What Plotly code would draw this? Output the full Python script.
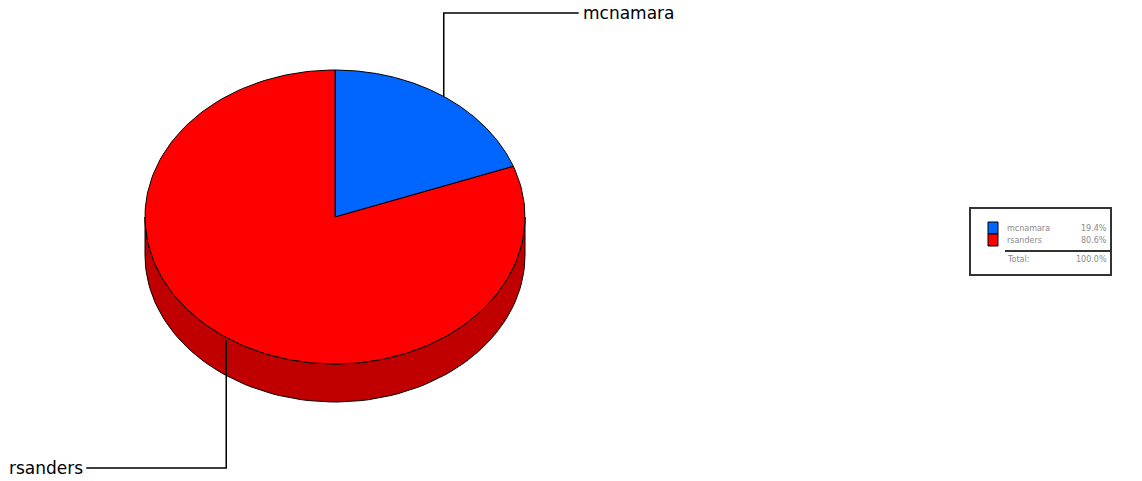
import numpy as np
import plotly.graph_objects as go

# ---- data ----
categories = ["mcnamara", "rsanders"]
values = [19.4, 80.6]
top_colors = ["#0066FF", "#FF0000"]
side_colors = ["#0040B0", "#C00000"]

# ---- geometry (pixel space of the window) ----
W, H = 1142, 481
cx, cy, rx, ry, depth = 335, 217, 190, 147, 38

def pt(theta_deg, dy=0):
    t = np.radians(theta_deg)
    return cx + rx * np.sin(t), cy - ry * np.cos(t) + dy

total = float(sum(values))
fracs = [v / total for v in values]
bounds = np.concatenate([[0], np.cumsum(fracs) * 360])

fig = go.Figure()

# side walls (visible front half: 90..270 deg clockwise from top)
for i in range(len(values)):
    a0, a1 = max(bounds[i], 90), min(bounds[i + 1], 270)
    if a1 <= a0:
        continue
    ang = np.linspace(a0, a1, 80)
    xs_t, ys_t = pt(ang)
    xs_b, ys_b = pt(ang[::-1], depth)
    xs = np.concatenate([xs_t, xs_b, xs_t[:1]])
    ys = np.concatenate([ys_t, ys_b, ys_t[:1]])
    fig.add_trace(go.Scatter(x=xs, y=ys, mode="lines", fill="toself",
                             fillcolor=side_colors[i],
                             line=dict(color="black", width=1),
                             hoverinfo="skip", showlegend=False))

# top faces
for i in range(len(values)):
    ang = np.linspace(bounds[i], bounds[i + 1], 200)
    xs, ys = pt(ang)
    xs = np.concatenate([[cx], xs, [cx]])
    ys = np.concatenate([[cy], ys, [cy]])
    fig.add_trace(go.Scatter(x=xs, y=ys, mode="lines", fill="toself",
                             fillcolor=top_colors[i],
                             line=dict(color="black", width=1),
                             name=categories[i], hoverinfo="name",
                             showlegend=False))

# leader lines and labels
label_y = [13, 468]
for i in range(len(values)):
    mid = (bounds[i] + bounds[i + 1]) / 2
    x0, y0 = pt(mid)
    if 90 < mid < 270:
        y0 = y0 + 3
    ly = label_y[i]
    right = np.sin(np.radians(mid)) >= 0
    x1 = x0 + 135 if right else x0 - 140
    fig.add_trace(go.Scatter(x=[x0, x0, x1], y=[y0, ly, ly], mode="lines",
                             line=dict(color="black", width=1.5),
                             hoverinfo="skip", showlegend=False))
    fig.add_annotation(x=x1 + (2 if right else -1), y=ly, text=categories[i],
                       showarrow=False, xanchor="left" if right else "right",
                       yanchor="middle",
                       font=dict(family="DejaVu Sans", size=17, color="black"))

# legend box
lx0, ly0, lx1, ly1 = 970, 208, 1111, 275
fig.add_shape(type="rect", x0=lx0, y0=ly0, x1=lx1, y1=ly1,
              line=dict(color="#333333", width=2), fillcolor="white")
row_y = [228, 240]
lg_font = dict(family="DejaVu Sans", size=8, color="#8a8a8a")
for i in range(len(values)):
    fig.add_shape(type="rect", x0=988, x1=998, y0=row_y[i] - 6, y1=row_y[i] + 6,
                  line=dict(color="black", width=1), fillcolor=top_colors[i])
    fig.add_annotation(x=1005, y=row_y[i], text=categories[i], showarrow=False,
                       xanchor="left", yanchor="middle", font=lg_font)
    fig.add_annotation(x=1109, y=row_y[i], text=f"{fracs[i]*100:.1f}%",
                       showarrow=False, xanchor="right", yanchor="middle",
                       font=lg_font)
fig.add_shape(type="line", x0=1005, x1=1110, y0=251, y1=251,
              line=dict(color="#333333", width=2))
fig.add_annotation(x=1005, y=259, text="Total:", showarrow=False,
                   xanchor="left", yanchor="middle", font=lg_font)
fig.add_annotation(x=1109, y=259, text=f"{sum(fracs)*100:.1f}%",
                   showarrow=False, xanchor="right", yanchor="middle",
                   font=lg_font)

fig.update_layout(
    width=W, height=H,
    margin=dict(l=0, r=0, t=0, b=0),
    paper_bgcolor="white", plot_bgcolor="white",
    xaxis=dict(range=[0, W], visible=False, fixedrange=True),
    yaxis=dict(range=[H, 0], visible=False, fixedrange=True),
    showlegend=False,
)

fig.write_html("out.html",
               config={"displayModeBar": False},
               post_script="document.body.style.margin='0';"
                           "document.body.style.overflow='hidden';")
